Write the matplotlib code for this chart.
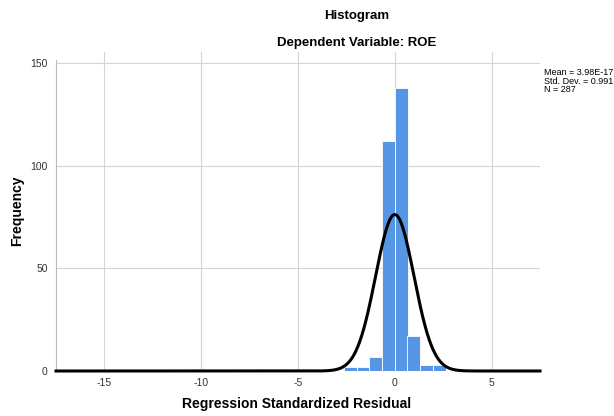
import numpy as np
import matplotlib
matplotlib.use("Agg")
import matplotlib.pyplot as plt

plt.rcParams['font.family'] = ['Liberation Sans', 'DejaVu Sans']
plt.rcParams['axes.unicode_minus'] = False

# Data
bin_lefts = [-10.63, -7.28, -6.13, -2.62, -1.965, -1.31, -0.655, 0.0, 0.655, 1.31, 1.965]
counts = [1, 1, 1, 2, 2, 7, 112, 138, 17, 3, 3]
bin_width = 0.66
mean_val = 3.98e-17
std_val = 0.991
n_val = 287
x_ticks = [-15, -10, -5, 0, 5]
y_ticks = [0, 50, 100, 150]

fig = plt.figure(figsize=(6.14, 4.16), dpi=100)
ax = fig.add_axes([56/614, 45/416, 484/614, 319/416])

ax.bar(bin_lefts, counts, width=bin_width, align='edge', color='#5796e4',
       edgecolor='white', linewidth=0.6, zorder=2)

xs = np.linspace(-17.5, 7.5, 1000)
ys = n_val * bin_width / (std_val * np.sqrt(2 * np.pi)) * np.exp(-0.5 * ((xs - mean_val) / std_val) ** 2)
ax.plot(xs, ys, color='black', linewidth=2.2, zorder=3, clip_on=False)

ax.set_xlim(-17.5, 7.5)
ax.set_ylim(0, 155.5)
ax.set_xticks(x_ticks)
ax.set_yticks(y_ticks)
ax.grid(True, color='#d4d4d4', linewidth=0.8, zorder=0)
ax.set_axisbelow(True)
for s in ['top', 'right', 'bottom']:
    ax.spines[s].set_visible(False)
ax.spines['left'].set_color('#bbbbbb')
ax.spines['left'].set_linewidth(0.8)
ax.spines['left'].set_bounds(0, 151.5)
ax.tick_params(axis='both', length=0, labelsize=7.5, colors='#333333')
ax.tick_params(axis='x', pad=5)
ax.tick_params(axis='y', pad=6)

fig.text(297/614, 1 - 404/416, 'Regression Standardized Residual', ha='center', va='center',
         fontsize=10, fontweight='bold')
fig.text(17/614, 1 - 211/416, 'Frequency', ha='center', va='center', rotation=90,
         fontsize=10, fontweight='bold')

fig.text(357/614, 1 - 16/416, 'Histogram', ha='center', va='center', fontsize=9.5, fontweight='bold')
fig.text(357/614, 1 - 43/416, 'Dependent Variable: ROE', ha='center', va='center', fontsize=9.5, fontweight='bold')

fig.text(544/614, 1 - 68/416, 'Mean = 3.98E-17\nStd. Dev. = 0.991\nN = 287',
         ha='left', va='top', fontsize=6.5, linespacing=0.95)

fig.savefig('out.png', dpi=100)
